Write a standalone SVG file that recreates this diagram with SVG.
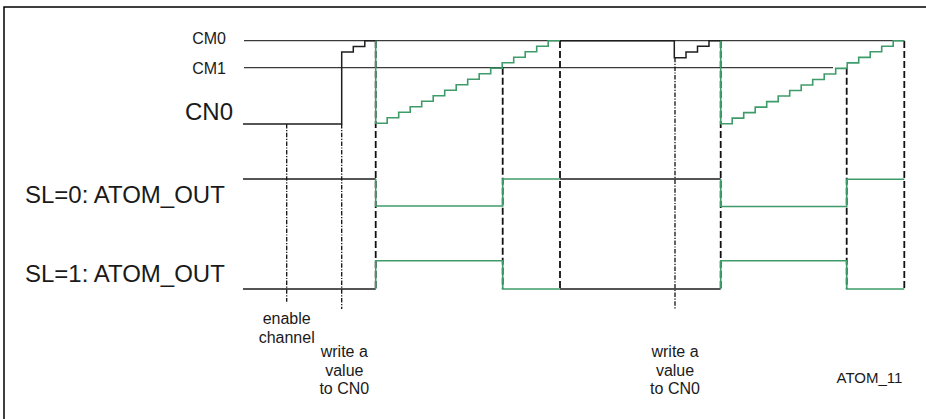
<svg xmlns="http://www.w3.org/2000/svg" width="926" height="419" viewBox="0 0 926 419">
<style>
text{font-family:"Liberation Sans",Arial,sans-serif;fill:#1a1a1a}
.lbl{font-size:24px}
.sm{font-size:16px}
.ref{fill:none;stroke:#3a3a3a;stroke-width:1.3}
.blk{fill:none;stroke:#1e1e1e;stroke-width:1.5}
.grn{fill:none;stroke:#3e9c6b;stroke-width:1.6}
.dash{fill:none;stroke:#111;stroke-width:1.8;stroke-dasharray:7 3}
.dd{fill:none;stroke:#111;stroke-width:1.3;stroke-dasharray:4.5 1.5 1.2 1.5}
</style>
<rect x="4" y="7" width="940" height="430" fill="#fff" stroke="#000" stroke-width="1.5"/>
<g id="labels">
<text class="sm" x="226" y="43.5" text-anchor="end">CM0</text>
<text class="sm" x="226" y="73.5" text-anchor="end">CM1</text>
<text class="lbl" x="233" y="120" text-anchor="end">CN0</text>
<text class="lbl" x="25" y="203.3">SL=0: ATOM_OUT</text>
<text class="lbl" x="25" y="281.7">SL=1: ATOM_OUT</text>
<text class="sm" x="286.7" y="324.3" text-anchor="middle">enable</text>
<text class="sm" x="286.7" y="342.7" text-anchor="middle">channel</text>
<text class="sm" x="344.3" y="357.3" text-anchor="middle">write a</text>
<text class="sm" x="344.3" y="375.7" text-anchor="middle">value</text>
<text class="sm" x="344.3" y="394.3" text-anchor="middle">to CN0</text>
<text class="sm" x="675" y="357.3" text-anchor="middle">write a</text>
<text class="sm" x="675" y="375.7" text-anchor="middle">value</text>
<text class="sm" x="675" y="394.3" text-anchor="middle">to CN0</text>
<text x="869.5" y="383.3" text-anchor="middle" style="font-size:15px">ATOM_11</text>
</g>
<g id="reference-lines">
<path class="ref" d="M244 40.7 H904.3"/>
<path class="ref" d="M244 67.7 H833"/>
</g>
<g id="markers">
<path class="dash" d="M375.7 41 V289 M502.7 67.7 V289 M560 41 V289 M720.7 41 V289 M846.7 67.7 V289 M904.3 41 V289"/>
<path class="dd" d="M286.7 124 V301.7 M341.7 124 V309 M675 57.7 V309"/>
</g>
<g id="signals">
<path class="blk" d="M243 124 H341.7 V52 H353.3 V46.5 H364.8 V40.7 H375.7"/>
<path class="blk" d="M560 40.7 H674.3 V57.7 H686 V52 H697.5 V46.3 H709 V40.7 H720.7"/>
<path class="grn" d="M375.7 40.7 V123.3 h11.5 v-5.5 h11.5 v-5.5 h11.5 v-5.5 h11.5 v-5.5 h11.5 v-5.5 h11.5 v-5.5 h11.5 v-5.5 h11.5 v-5.5 h11.5 v-5.5 h11.5 v-5.5 h11.5 v-5.5 h11.5 v-5.5 h11.5 v-5.5 h11.5 v-5.5 h11.5 v-5.5 H560"/>
<path class="grn" d="M720.7 40.7 V123.7 h11.5 v-5.53 h11.5 v-5.53 h11.5 v-5.53 h11.5 v-5.53 h11.5 v-5.53 h11.5 v-5.53 h11.5 v-5.53 h11.5 v-5.53 h11.5 v-5.53 h11.5 v-5.53 h11.5 v-5.53 h11.5 v-5.53 h11.5 v-5.53 h11.5 v-5.53 h11.5 v-5.53 H904.3"/>
<path class="blk" d="M243 179 H375.7 M560 179 H720.7"/>
<path class="blk" d="M243 289 H375.7 M560 289 H720.7"/>
<path class="grn" d="M375.7 179 V206 H502.7 V179 H560"/>
<path class="grn" d="M720.7 179 V206.5 H846.7 V179.3 H904.3"/>
<path class="grn" d="M375.7 289 V260.7 H502.7 V289 H560"/>
<path class="grn" d="M720.7 289 V260.7 H846.7 V289 H904.3"/>
</g>
</svg>
